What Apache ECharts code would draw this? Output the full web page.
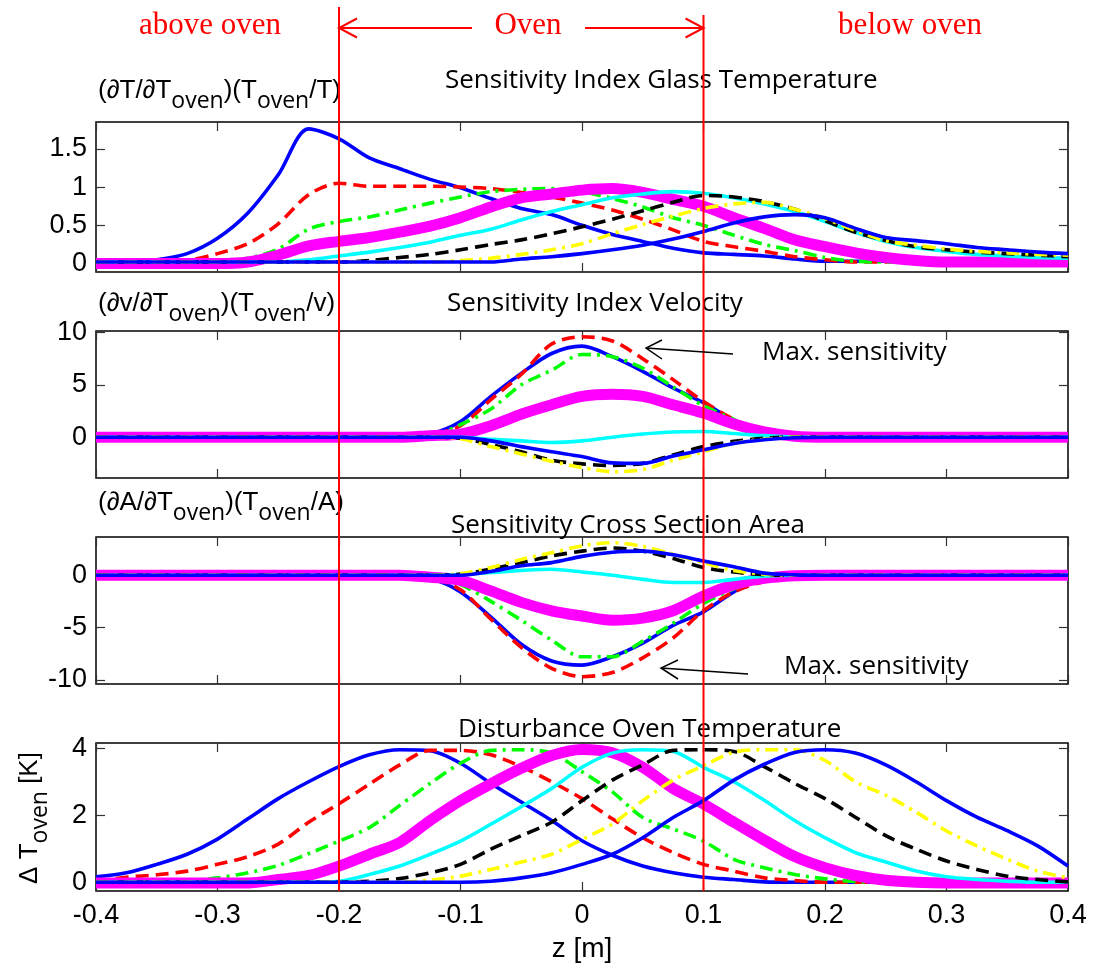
<!DOCTYPE html>
<html><head><meta charset="utf-8">
<script src="https://cdn.jsdelivr.net/npm/echarts@6/dist/echarts.min.js"></script>
<style>html,body{margin:0;padding:0;background:#fff}#c{width:1094px;height:969px}</style>
</head><body><div id="c"></div>
<script>
// ---- data ----
const zPos = [-0.4,-0.375,-0.35,-0.325,-0.3,-0.275,-0.25,-0.225,-0.2,-0.175,-0.15,-0.125,-0.1,-0.075,-0.05,-0.025,0,0.025,0.05,0.075,0.1,0.125,0.15,0.175,0.2,0.225,0.25,0.275,0.3,0.325,0.35,0.375,0.4];
const xTickValues = [-0.4,-0.3,-0.2,-0.1,0,0.1,0.2,0.3,0.4];
const xTickLabels = ['-0.4','-0.3','-0.2','-0.1','0','0.1','0.2','0.3','0.4'];
const glassTicks = [0,0.5,1,1.5];
const velTicks = [0,5,10];
const areaTicks = [-10,-5,0];
const distTicks = [0,2,4];
const ovenLimits = [-0.2, 0.1];

// Sensitivity Index Glass Temperature
const gBlue1 = [0.02,0.02,0.05,0.13,0.33,0.66,1.16,1.76,1.63,1.38,1.24,1.1,0.99,0.85,0.72,0.64,0.5,0.38,0.29,0.2,0.14,0.12,0.1,0.06,0.03,0.03,0.03,0.03,0.03,0.03,0.03,0.03,0.03];
const gRed = [0.02,0.02,0.02,0.04,0.13,0.26,0.52,0.9,1.05,1.01,1.01,1.01,1.0,0.98,0.93,0.87,0.79,0.7,0.58,0.44,0.29,0.22,0.16,0.09,0.05,0.02,0.02,0.02,0.02,0.02,0.02,0.02,0.02];
const gGreen = [0.02,0.02,0.02,0.02,0.03,0.07,0.19,0.45,0.55,0.61,0.7,0.79,0.87,0.94,0.97,0.98,0.94,0.85,0.74,0.6,0.5,0.37,0.25,0.17,0.08,0.03,0.02,0.02,0.02,0.02,0.02,0.02,0.02];
const gMagenta = [0,0,0,0,0,0.02,0.11,0.23,0.29,0.34,0.41,0.49,0.6,0.74,0.86,0.91,0.96,0.98,0.93,0.84,0.75,0.6,0.46,0.31,0.22,0.14,0.08,0.04,0.02,0.02,0.02,0.02,0.02];
const gCyan = [0.02,0.02,0.02,0.02,0.02,0.02,0.02,0.05,0.1,0.15,0.21,0.28,0.37,0.45,0.57,0.68,0.77,0.86,0.91,0.94,0.92,0.86,0.78,0.68,0.55,0.41,0.29,0.21,0.16,0.12,0.1,0.08,0.07];
const gBlack = [0.02,0.02,0.02,0.02,0.02,0.02,0.02,0.02,0.02,0.04,0.08,0.12,0.18,0.25,0.31,0.39,0.48,0.58,0.69,0.8,0.89,0.87,0.81,0.71,0.56,0.41,0.3,0.22,0.18,0.15,0.13,0.11,0.09];
const gYellow = [0.02,0.02,0.02,0.02,0.02,0.02,0.02,0.02,0.02,0.02,0.02,0.02,0.04,0.07,0.12,0.18,0.26,0.39,0.51,0.62,0.72,0.78,0.8,0.71,0.59,0.43,0.3,0.24,0.19,0.16,0.14,0.12,0.11];
const gBlue2 = [0.02,0.02,0.02,0.02,0.02,0.02,0.02,0.02,0.02,0.02,0.02,0.02,0.02,0.02,0.06,0.09,0.13,0.18,0.24,0.32,0.42,0.53,0.61,0.64,0.6,0.46,0.34,0.3,0.26,0.21,0.18,0.15,0.13];

// Sensitivity Index Velocity
const vBlue1 = [0,0,0,0,0,0,0,0,0,0,0,0.3,1.5,3.9,6.1,8.0,8.7,7.7,6.3,4.7,3.3,1.6,0.4,0.1,0,0,0,0,0,0,0,0,0];
const vRed = [0,0,0,0,0,0,0,0,0,0,0,0.2,1.1,3.6,6.0,8.9,9.6,9.2,7.5,5.5,3.4,1.7,0.4,0.1,0,0,0,0,0,0,0,0,0];
const vGreen = [0,0,0,0,0,0,0,0,0,0,0,0.1,1.2,2.7,5.0,6.4,7.9,7.7,6.6,4.8,3.0,1.7,0.35,0.05,0,0,0,0,0,0,0,0,0];
const vMagenta = [0,0,0,0,0,0,0,0,0,0,0,0.15,0.3,1.1,2.2,3.1,3.9,4.1,3.9,3.1,2.3,1.25,0.5,0.1,0,0,0,0,0,0,0,0,0];
const vCyan = [0,0,0,0,0,0,0,0,0,0,0,0,0,-0.2,-0.35,-0.5,-0.35,0,0.3,0.5,0.55,0.35,0.15,0.02,0,0,0,0,0,0,0,0,0];
const vBlack = [0,0,0,0,0,0,0,0,0,0,0,0,-0.1,-0.7,-1.4,-2.2,-2.55,-2.7,-2.5,-1.7,-0.9,-0.4,-0.1,0,0,0,0,0,0,0,0,0,0];
const vYellow = [0,0,0,0,0,0,0,0,0,0,0,0,-0.15,-0.9,-1.6,-2.3,-2.9,-3.3,-3.1,-2.2,-1.4,-0.6,-0.2,0,0,0,0,0,0,0,0,0,0];
const vBlue2 = [0,0,0,0,0,0,0,0,0,0,0,0,0,-0.35,-0.9,-1.4,-1.85,-2.45,-2.5,-1.8,-1.2,-0.6,-0.25,-0.05,0,0,0,0,0,0,0,0,0];

// Sensitivity Cross Section Area
const aBlue1 = [0,0,0,0,0,0,0,0,0,0,0,-0.3,-1.6,-4.0,-6.6,-8.2,-8.6,-7.8,-6.5,-4.8,-3.5,-1.6,-0.2,0,0,0,0,0,0,0,0,0,0];
const aRed = [0,0,0,0,0,0,0,0,0,0,0,-0.2,-1.4,-4.2,-6.9,-8.9,-9.7,-9.3,-7.9,-6.0,-3.4,-1.6,-0.6,-0.1,0,0,0,0,0,0,0,0,0];
const aGreen = [0,0,0,0,0,0,0,0,0,0,0,-0.2,-0.9,-2.5,-4.3,-6.2,-7.8,-7.8,-6.3,-4.6,-2.7,-1.3,-0.4,-0.05,0,0,0,0,0,0,0,0,0];
const aMagenta = [0,0,0,0,0,0,0,0,0,0,0,-0.2,-0.5,-1.5,-2.6,-3.4,-3.9,-4.3,-4.1,-3.4,-2.0,-0.9,-0.3,-0.05,0,0,0,0,0,0,0,0,0];
const aCyan = [0,0,0,0,0,0,0,0,0,0,0,0,0.05,0.25,0.45,0.57,0.3,0,-0.4,-0.7,-0.7,-0.4,-0.1,0,0,0,0,0,0,0,0,0,0];
const aBlack = [0,0,0,0,0,0,0,0,0,0,0,0,0.1,0.57,1.2,1.83,2.3,2.6,2.3,1.6,0.73,0.3,0.05,0,0,0,0,0,0,0,0,0,0];
const aYellow = [0,0,0,0,0,0,0,0,0,0,0,0,0.15,0.73,1.5,2.15,2.8,3.1,2.75,2.0,1.2,0.45,0.1,0,0,0,0,0,0,0,0,0,0];
const aBlue2 = [0,0,0,0,0,0,0,0,0,0,0,0,0,0.35,0.9,1.2,1.8,2.2,2.3,1.95,1.36,0.8,0.2,0.03,0,0,0,0,0,0,0,0,0];

// Disturbance Oven Temperature
const dBlue1 = [0.18,0.3,0.55,0.85,1.3,1.9,2.5,3.0,3.45,3.8,3.95,3.92,3.55,2.95,2.4,1.85,1.25,0.82,0.5,0.3,0.17,0.1,0.03,0.02,0.02,0.02,0.02,0.02,0.02,0.02,0.02,0.02,0.02];
const dRed = [0.05,0.17,0.24,0.35,0.55,0.78,1.15,1.8,2.35,2.93,3.5,3.93,3.93,3.8,3.45,3.0,2.5,1.9,1.34,0.9,0.55,0.35,0.15,0.07,0.02,0.02,0.02,0.02,0.02,0.02,0.02,0.02,0.02];
const dGreen = [0.05,0.05,0.05,0.07,0.15,0.3,0.52,0.87,1.24,1.64,2.3,2.95,3.55,3.93,3.95,3.85,3.3,2.7,1.94,1.6,1.24,0.7,0.45,0.25,0.12,0.04,0.02,0.02,0.02,0.02,0.02,0.02,0.02];
const dMagenta = [0,0,0,0,0,0,0.1,0.22,0.5,0.85,1.2,1.85,2.44,2.94,3.4,3.78,3.96,3.86,3.43,2.8,2.34,1.8,1.27,0.78,0.45,0.22,0.08,0.02,0,0,0,0,0];
const dCyan = [0.02,0.02,0.02,0.02,0.02,0.02,0.02,0.02,0.05,0.25,0.5,0.85,1.24,1.74,2.26,2.8,3.43,3.85,3.95,3.9,3.43,3.0,2.45,1.85,1.34,0.9,0.62,0.35,0.18,0.1,0.05,0.02,0.02];
const dBlack = [0.02,0.02,0.02,0.02,0.02,0.02,0.02,0.02,0.02,0.05,0.13,0.3,0.55,1.0,1.4,1.8,2.44,3.05,3.5,3.93,3.95,3.9,3.45,2.95,2.5,1.95,1.4,1.0,0.65,0.4,0.2,0.1,0.03];
const dYellow = [0.02,0.02,0.02,0.02,0.02,0.02,0.02,0.02,0.02,0.02,0.02,0.08,0.2,0.4,0.62,0.85,1.29,1.75,2.44,3.05,3.48,3.88,3.95,3.95,3.63,3.0,2.6,2.1,1.54,1.1,0.7,0.35,0.15];
const dBlue2 = [0.02,0.02,0.02,0.02,0.02,0.02,0.02,0.02,0.02,0.02,0.02,0.02,0.02,0.05,0.15,0.3,0.55,0.85,1.34,1.94,2.44,3.05,3.52,3.87,3.95,3.85,3.5,3.0,2.44,1.95,1.55,1.1,0.5];

const panelSeries = [
  [gBlue1,gRed,gGreen,gMagenta,gCyan,gBlack,gYellow,gBlue2],
  [vBlue1,vRed,vGreen,vMagenta,vCyan,vBlack,vYellow,vBlue2],
  [aBlue1,aRed,aGreen,aMagenta,aCyan,aBlack,aYellow,aBlue2],
  [dBlue1,dRed,dGreen,dMagenta,dCyan,dBlack,dYellow,dBlue2]
];
const panelTicks = [glassTicks, velTicks, areaTicks, distTicks];

// ---- layout / style ----
const yRanges = [[-0.11,1.85],[-3.9,10.15],[-10.4,3.65],[-0.24,4.15]];
const gridBoxes = [
  {top:122,height:150},{top:331,height:147},{top:537,height:147},{top:743,height:148}
];
const LEFT = 96, RIGHT = 26;
const lineStyles = [
  {color:'#0000ff', width:3.6, type:'solid'},
  {color:'#ff0000', width:3.6, type:[13,7]},
  {color:'#00ff00', width:3.6, type:[13,6,3,6]},
  {color:'#ff00ff', width:11, type:'solid'},
  {color:'#00ffff', width:3.6, type:'solid'},
  {color:'#000000', width:3.6, type:[13,7]},
  {color:'#ffff00', width:3.6, type:[13,6,3,6]},
  {color:'#0000ff', width:3.6, type:'solid'}
];
const sansNum = 'Liberation Sans';
const humanist = 'Open Sans';

const grid = [], xAxis = [], yAxis = [], series = [];
gridBoxes.forEach((g, i) => {
  grid.push({left:LEFT, right:RIGHT, top:g.top, height:g.height, show:true,
    borderColor:'#000', borderWidth:1.5, backgroundColor:'transparent'});
  const tickStyle = {color:'#333', width:1.2};
  xAxis.push({type:'value', gridIndex:i, position:'bottom', min:-0.4, max:0.4,
    axisLine:{show:false, onZero:false}, splitLine:{show:false},
    axisTick:{show:true, inside:true, length:9, customValues:xTickValues, lineStyle:tickStyle},
    axisLabel:{show:i===3, customValues:xTickValues, margin:11,
      formatter:(v)=>{const k=xTickValues.findIndex(t=>Math.abs(t-v)<1e-9); return k>=0?xTickLabels[k]:'';},
      fontSize:27, fontFamily:sansNum, color:'#000'},
    name: i===3 ? 'z [m]' : '', nameLocation:'middle', nameGap:44,
    nameTextStyle:{fontSize:28, fontFamily:sansNum, color:'#000'}
  });
  xAxis.push({type:'value', gridIndex:i, position:'top', min:-0.4, max:0.4,
    axisLine:{show:false, onZero:false}, splitLine:{show:false},
    axisTick:{show:true, inside:true, length:9, customValues:xTickValues, lineStyle:tickStyle},
    axisLabel:{show:false}});
  yAxis.push({type:'value', gridIndex:i, position:'left', min:yRanges[i][0], max:yRanges[i][1],
    axisLine:{show:false, onZero:false}, splitLine:{show:false},
    axisTick:{show:true, inside:true, length:9, customValues:panelTicks[i], lineStyle:tickStyle},
    axisLabel:{show:true, customValues:panelTicks[i], margin:9, fontSize:27, fontFamily:sansNum, color:'#000'}});
  yAxis.push({type:'value', gridIndex:i, position:'right', min:yRanges[i][0], max:yRanges[i][1],
    axisLine:{show:false, onZero:false}, splitLine:{show:false},
    axisTick:{show:true, inside:true, length:9, customValues:panelTicks[i], lineStyle:tickStyle},
    axisLabel:{show:false}});
  panelSeries[i].forEach((arr, k) => {
    series.push({type:'line', xAxisIndex:2*i, yAxisIndex:2*i, showSymbol:false, symbol:'none',
      smooth:0.3, data: zPos.map((z, j) => [z, arr[j]]), animation:false, silent:true,
      lineStyle:{color:lineStyles[k].color, width:lineStyles[k].width, type:lineStyles[k].type, cap:'butt', join:'round'},
      z: 2 + k});
  });
});

const chart = echarts.init(document.getElementById('c'));
chart.setOption({animation:false, backgroundColor:'#fff', grid, xAxis, yAxis, series});

// ---- annotations ----
const xL = chart.convertToPixel({xAxisIndex:6}, ovenLimits[0]);
const xR = chart.convertToPixel({xAxisIndex:6}, ovenLimits[1]);
const bottomY = chart.convertToPixel({yAxisIndex:6}, yRanges[3][0]);

function txt(x, y, text, font, fill, align) {
  return {type:'text', x, y, z:50, silent:true,
    style:{text, font, fill: fill||'#000', align: align||'left', verticalAlign:'middle'}};
}
function richLabel(x, y, text, rotation, align) {
  return {type:'text', x, y, rotation: rotation||0, z:50, silent:true,
    style:{text, fill:'#000', align: align||'left', verticalAlign:'middle',
      rich:{ m:{fontSize:26, fontFamily:sansNum, fill:'#000'},
             s:{fontSize:23, fontFamily:humanist, fill:'#000', padding:[20,0,0,0]} }}};
}
function line(pts, color, w) {
  return {type:'polyline', z:60, silent:true, shape:{points:pts}, style:{stroke:color, lineWidth:w, fill:null}};
}
const serif = '31px "Liberation Serif"';
const hum = '26px "Open Sans"';
const graphics = [
  line([[xL,7],[xL,bottomY]], '#ff0000', 2),
  line([[xR,15],[xR,bottomY]], '#ff0000', 2),
  txt(210, 26, 'above oven', serif, '#ff0000', 'center'),
  txt(528, 26, 'Oven', serif, '#ff0000', 'center'),
  txt(910, 26, 'below oven', serif, '#ff0000', 'center'),
  line([[472,28],[xL,28]], '#ff0000', 2),
  line([[xL+18,18.5],[xL,28],[xL+18,37.5]], '#ff0000', 2),
  line([[585,28],[xR,28]], '#ff0000', 2),
  line([[xR-18,18.5],[xR,28],[xR-18,37.5]], '#ff0000', 2),
  txt(445, 81, 'Sensitivity Index Glass Temperature', hum),
  txt(447, 304, 'Sensitivity Index Velocity', hum),
  txt(451, 526, 'Sensitivity Cross Section Area', hum),
  txt(458, 730, 'Disturbance Oven Temperature', hum),
  richLabel(98, 91, '{m|(∂T/∂T}{s|oven}{m|)(T}{s|oven}{m|/T)}'),
  richLabel(98, 304, '{m|(∂v/∂T}{s|oven}{m|)(T}{s|oven}{m|/v)}'),
  richLabel(98, 503, '{m|(∂A/∂T}{s|oven}{m|)(T}{s|oven}{m|/A)}'),
  richLabel(30, 818, '{m|Δ T}{s|oven}{m| [K]}', Math.PI/2, 'center'),
  txt(762, 353, 'Max. sensitivity', hum),
  line([[733,354],[646,348]], '#000', 1.5),
  line([[662,340],[646,348],[662,359]], '#000', 1.5),
  txt(784, 667, 'Max. sensitivity', hum),
  line([[748,674],[661,668]], '#000', 1.5),
  line([[678,660],[661,668],[678,679]], '#000', 1.5)
];
chart.setOption({graphic: graphics});
</script>
</body></html>
